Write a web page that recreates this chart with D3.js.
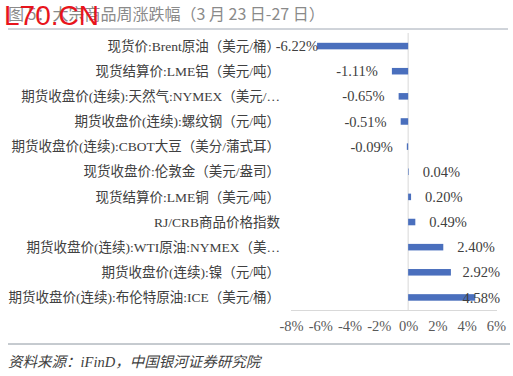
<!DOCTYPE html>
<html><head><meta charset="utf-8">
<script src="https://cdn.jsdelivr.net/npm/d3@7"></script>
<style>body{margin:0;background:#fff;}svg{display:block;}</style>
</head><body>
<svg id="c" width="513" height="376"></svg>
<script>
const categories = [
  "现货价:Brent原油（美元/桶）",
  "现货结算价:LME铝（美元/吨）",
  "期货收盘价(连续):天然气:NYMEX（美元/…",
  "期货收盘价(连续):螺纹钢（元/吨）",
  "期货收盘价(连续):CBOT大豆（美分/蒲式耳）",
  "现货收盘价:伦敦金（美元/盎司）",
  "现货结算价:LME铜（美元/吨）",
  "RJ/CRB商品价格指数",
  "期货收盘价(连续):WTI原油:NYMEX（美…",
  "期货收盘价(连续):镍（元/吨）",
  "期货收盘价(连续):布伦特原油:ICE（美元/桶）"
];
const values = [-6.22, -1.11, -0.65, -0.51, -0.09, 0.04, 0.20, 0.49, 2.40, 2.92, 4.58];
const xTicks = [-8, -6, -4, -2, 0, 2, 4, 6];
const title = "图 5：大宗商品周涨跌幅（3 月 23 日-27 日）";
const source = "资料来源：iFinD，中国银河证券研究院";
const watermark = "L70.CN";

const svg = d3.select("#c");
const serif = "'Liberation Serif','Noto Sans CJK SC',serif";

const x = d3.scaleLinear().domain([-8, 6]).range([291, 496]);
const y = d3.scaleBand().domain(categories).range([33.5, 310]).paddingInner(0.74).paddingOuter(0.37);

// title
svg.append("text").attr("x", 8).attr("y", 20).attr("font-family", "'Noto Sans CJK SC',sans-serif")
  .attr("font-size", 16).attr("fill", "#8a8a8a").text(title);
svg.append("line").attr("x1", 8).attr("x2", 508).attr("y1", 29).attr("y2", 29).attr("stroke", "#a0a8b4").attr("stroke-width", 1);

// zero line
svg.append("line").attr("x1", x(0)).attr("x2", x(0)).attr("y1", 33).attr("y2", 310).attr("stroke", "#d9d9d9");
// bottom axis
const ax = svg.append("g").attr("transform", "translate(0,310)")
  .call(d3.axisBottom(x).tickValues(xTicks).tickFormat(d => d + "%").tickSize(0).tickPadding(11));
ax.select(".domain").attr("stroke", "#d9d9d9").attr("d", "M291,0.5H497");
ax.selectAll("text").attr("font-family", serif).attr("font-size", 14.5).attr("fill", "#595959");

// bars
svg.selectAll("rect.bar").data(values).join("rect").attr("class", "bar")
  .attr("x", d => x(Math.min(0, d)))
  .attr("width", d => Math.abs(x(d) - x(0)))
  .attr("y", (d, i) => y(categories[i]))
  .attr("height", y.bandwidth())
  .attr("fill", "#4a6fbd");

// category labels
svg.selectAll("text.cat").data(categories).join("text").attr("class", "cat")
  .attr("x", 280).attr("y", d => y(d) + y.bandwidth() / 2).attr("dy", "0.35em")
  .attr("text-anchor", "end").attr("font-family", serif).attr("font-size", 13.5).attr("fill", "#404040")
  .text(d => d);

// value labels
svg.selectAll("text.val").data(values).join("text").attr("class", "val")
  .attr("y", (d, i) => y(categories[i]) + y.bandwidth() / 2).attr("dy", "0.35em")
  .attr("font-family", serif).attr("font-size", 14.5).attr("fill", "#404040")
  .each(function(d) {
    const t = d3.select(this);
    const s = d.toFixed(2) + "%";
    t.text(s);
    const w = this.getComputedTextLength();
    if (d < 0) {
      let end = x(d) - 14;
      if (end - w < 282) end = x(d) + 1;
      t.attr("x", end).attr("text-anchor", "end");
    } else {
      let start = x(d) + 14;
      if (start + w > 500) start = 500 - w;
      t.attr("x", start).attr("text-anchor", "start");
    }
  });

// footer
svg.append("line").attr("x1", 8).attr("x2", 510).attr("y1", 344).attr("y2", 344).attr("stroke", "#8c96a0");
svg.append("text").attr("x", 8).attr("y", 367).attr("font-family", serif).attr("font-style", "italic")
  .attr("font-size", 14.5).attr("fill", "#404040").text(source);

// watermark
svg.append("text").attr("x", 4).attr("y", 25).attr("font-family", "'Liberation Sans',Arial,sans-serif")
  .attr("font-size", 28).attr("fill", "#e8141c").text(watermark);
</script>
</body></html>
